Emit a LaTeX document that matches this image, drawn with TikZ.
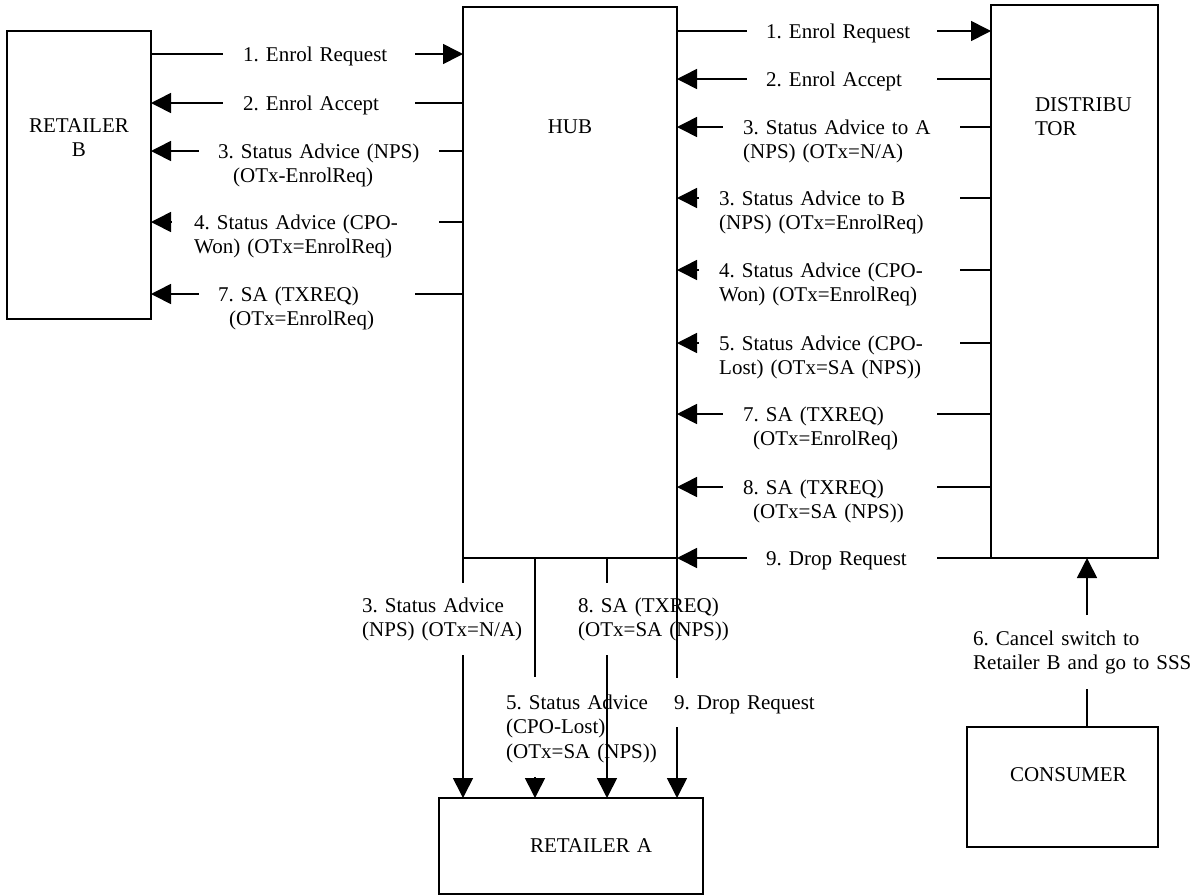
\documentclass[tikz,border=0pt]{standalone}
\usepackage{fontspec}
\setmainfont{Liberation Serif}
\usetikzlibrary{arrows.meta}
\frenchspacing
\newcommand{\msgfont}{\fontsize{21}{24.5}\selectfont}

\begin{document}
\begin{tikzpicture}[
    x=1pt, y=-1pt,
    box/.style={draw, line width=1.6pt, inner sep=0pt, outer sep=0pt, font=\msgfont},
    flow/.style={-{Triangle[length=20pt,width=20pt]}, line width=1.6pt},
    wire/.style={line width=1.6pt},
    msg/.style 2 args={font=\msgfont, fill=white, align=left, anchor=base west, inner ysep=2pt, inner xsep=#1, text width=#2},
    note/.style={font=\msgfont, align=left, anchor=base west, inner sep=0pt, text width=220pt}
]
\useasboundingbox (0,0) rectangle (1196,895);

% parties
\node[box, anchor=north west, text width=214pt, align=center, text height=126pt, text depth=425pt] (hub) at (463,7) {HUB};
\node[box, anchor=north west, text width=144pt, align=center, text height=101pt, text depth=187pt] (retb) at (7,31) {RETAILER\\B};
\node[box, anchor=north west, inner xsep=44pt, text width=79pt, align=left, text height=106pt, text depth=447pt] (dist) at (991,5) {DISTRIBU\\TOR};
\node[box, anchor=north west, inner xsep=91pt, text width=82pt, align=left, text height=54pt, text depth=42pt] (reta) at (439,798) {RETAILER~A};
\node[box, anchor=north west, inner xsep=43pt, text width=105pt, align=left, text height=54pt, text depth=66pt] (cons) at (967,727) {CONSUMER};

% hub <-> distributor
\draw[flow] (hub.east |- 0,31) -- (dist.west |- 0,31);
\node[msg={19pt}{152pt}] (r1) at (747,38) {1. Enrol Request};
\draw[flow] (dist.west |- 0,79) -- (hub.east |- 0,79);
\node[msg={19pt}{152pt}] (r2) at (747,86) {2. Enrol Accept};
\draw[flow] (dist.west |- 0,127) -- (hub.east |- 0,127);
\node[msg={20pt}{197pt}] (r3a) at (723,134) {3. Status Advice to A\\(NPS) (OTx=N/A)};
\draw[flow] (dist.west |- 0,198) -- (hub.east |- 0,198);
\node[msg={20pt}{221pt}] (r3b) at (699,205) {3. Status Advice to B\\(NPS) (OTx=EnrolReq)};
\draw[flow] (dist.west |- 0,270) -- (hub.east |- 0,270);
\node[msg={20pt}{221pt}] (r4) at (699,277) {4. Status Advice (CPO-\\Won) (OTx=EnrolReq)};
\draw[flow] (dist.west |- 0,343) -- (hub.east |- 0,343);
\node[msg={20pt}{221pt}] (r5) at (699,350) {5. Status Advice (CPO-\\Lost) (OTx=SA (NPS))};
\draw[flow] (dist.west |- 0,414) -- (hub.east |- 0,414);
\node[msg={20pt}{174pt}] (r7) at (723,421) {7. SA (TXREQ)\\\hspace*{10pt}(OTx=EnrolReq)};
\draw[flow] (dist.west |- 0,487) -- (hub.east |- 0,487);
\node[msg={20pt}{174pt}] (r8) at (723,494) {8. SA (TXREQ)\\\hspace*{10pt}(OTx=SA (NPS))};
\draw[flow] (dist.west |- 0,558) -- (hub.east |- 0,558);
\node[msg={19pt}{152pt}] (r9) at (747,565) {9. Drop Request};

% retailer B <-> hub
\draw[flow] (retb.east |- 0,54) -- (hub.west |- 0,54);
\node[msg={20pt}{152pt}] (l1) at (223,61) {1. Enrol Request};
\draw[flow] (hub.west |- 0,103) -- (retb.east |- 0,103);
\node[msg={20pt}{152pt}] (l2) at (223,110) {2. Enrol Accept};
\draw[flow] (hub.west |- 0,151) -- (retb.east |- 0,151);
\node[msg={19pt}{202pt}] (l3) at (199,158) {3. Status Advice (NPS)\\\hspace*{15pt}(OTx-EnrolReq)};
\draw[flow] (hub.west |- 0,222) -- (retb.east |- 0,222);
\node[msg={22pt}{223pt}] (l4) at (172,229) {4. Status Advice (CPO-\\Won) (OTx=EnrolReq)};
\draw[flow] (hub.west |- 0,294) -- (retb.east |- 0,294);
\node[msg={19pt}{178pt}] (l7) at (199,301) {7. SA (TXREQ)\\\hspace*{11pt}(OTx=EnrolReq)};

% hub -> retailer A
\coordinate (g3a) at (hub.south west |- 0,583);
\coordinate (g3b) at (hub.south west |- 0,655);
\draw[wire] (hub.south west) -- (g3a);
\draw[flow] (g3b) -- (reta.north -| g3b);
\node[note] (b3) at (362,612) {3. Status Advice\\(NPS) (OTx=N/A)};

\coordinate (g5a) at (535,677);
\coordinate (g5b) at (535,777);
\draw[wire] (hub.south -| g5a) -- (g5a);
\draw[flow] (g5b) -- (reta.north -| g5b);
\node[note] (b5) at (506,709) {5. Status Advice\\(CPO-Lost)\\(OTx=SA (NPS))};

\coordinate (g8a) at (607,583);
\coordinate (g8b) at (607,655);
\draw[wire] (hub.south -| g8a) -- (g8a);
\draw[flow] (g8b) -- (reta.north -| g8b);
\node[note] (b8) at (578,612) {8. SA (TXREQ)\\(OTx=SA (NPS))};

\coordinate (g9a) at (hub.south east |- 0,678);
\coordinate (g9b) at (hub.south east |- 0,727);
\draw[wire] (hub.south east) -- (g9a);
\draw[flow] (g9b) -- (reta.north -| g9b);
\node[note] (b9) at (674,709) {9. Drop Request};

% consumer -> distributor
\coordinate (g6a) at (1087,689);
\coordinate (g6b) at (1087,615);
\draw[wire] (cons.north -| g6a) -- (g6a);
\draw[flow] (g6b) -- (dist.south -| g6b);
\node[note] (n6) at (973,645) {6. Cancel switch to\\Retailer B and go to SSS};
\end{tikzpicture}
\end{document}
